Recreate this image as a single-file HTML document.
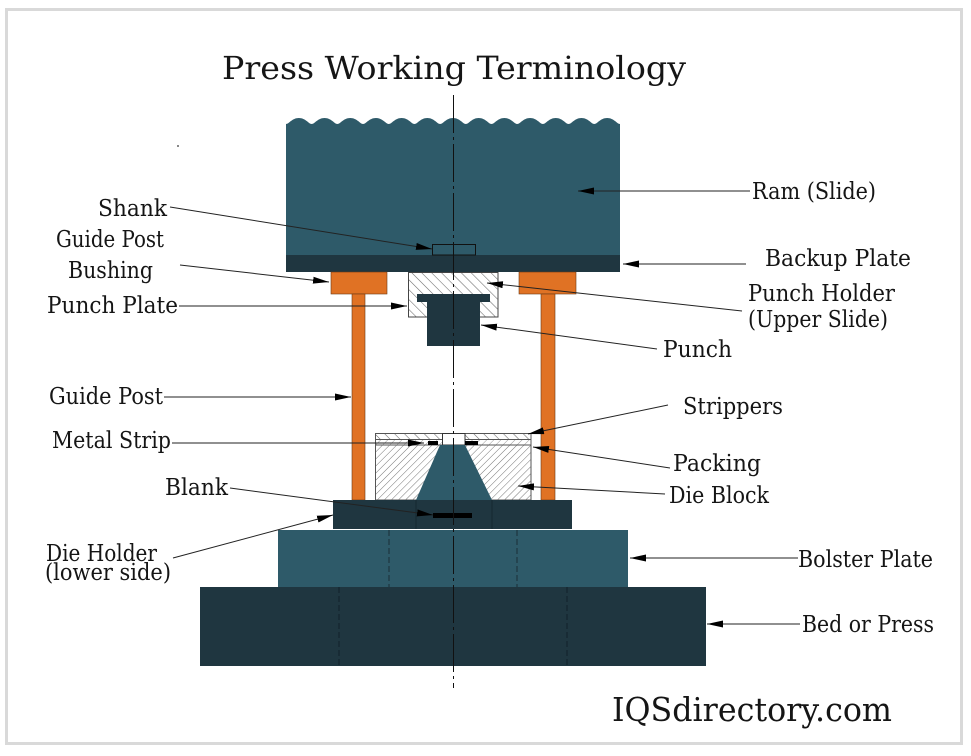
<!DOCTYPE html>
<html><head><meta charset="utf-8"><style>
html,body{margin:0;padding:0;background:#fff;}
svg{display:block;}
text{font-family:"DejaVu Serif","Liberation Serif",serif;fill:#151515;}
</style></head><body>
<svg width="971" height="756" viewBox="0 0 971 756" xmlns="http://www.w3.org/2000/svg">
<defs>
<pattern id="hA" patternUnits="userSpaceOnUse" width="7" height="7" patternTransform="rotate(-45)">
<rect width="7" height="7" fill="#fff"/><line x1="0" y1="0" x2="0" y2="7" stroke="#6a6a6a" stroke-width="1.1"/></pattern>
<pattern id="hB" patternUnits="userSpaceOnUse" width="5" height="5" patternTransform="rotate(45)">
<rect width="5" height="5" fill="#fff"/><line x1="0" y1="0" x2="0" y2="5" stroke="#777" stroke-width="1"/></pattern>
<pattern id="hC" patternUnits="userSpaceOnUse" width="5" height="5" patternTransform="rotate(45)">
<rect width="5" height="5" fill="#fff"/><line x1="0" y1="0" x2="0" y2="5" stroke="#999" stroke-width="1"/></pattern>
<marker id="ar" markerUnits="userSpaceOnUse" markerWidth="17" markerHeight="8" refX="16" refY="3.5" orient="auto">
<path d="M0,0 L16,3.5 L0,7 Z" fill="#000"/></marker>
</defs>
<rect x="0" y="0" width="971" height="756" fill="#fff"/>
<rect x="6.5" y="9.5" width="955" height="734" fill="none" stroke="#d9d9d9" stroke-width="3"/>
<rect x="177" y="145" width="2" height="2" fill="#888"/>

<!-- Ram -->
<path d="M286,272 L286,124
c3,0 6,-6 12.846,-6 c6.846,0 9.846,6 12.846,6
c3,0 6,-6 12.846,-6 c6.846,0 9.846,6 12.846,6
c3,0 6,-6 12.846,-6 c6.846,0 9.846,6 12.846,6
c3,0 6,-6 12.846,-6 c6.846,0 9.846,6 12.846,6
c3,0 6,-6 12.846,-6 c6.846,0 9.846,6 12.846,6
c3,0 6,-6 12.846,-6 c6.846,0 9.846,6 12.846,6
c3,0 6,-6 12.846,-6 c6.846,0 9.846,6 12.846,6
c3,0 6,-6 12.846,-6 c6.846,0 9.846,6 12.846,6
c3,0 6,-6 12.846,-6 c6.846,0 9.846,6 12.846,6
c3,0 6,-6 12.846,-6 c6.846,0 9.846,6 12.846,6
c3,0 6,-6 12.846,-6 c6.846,0 9.846,6 12.846,6
c3,0 6,-6 12.846,-6 c6.846,0 9.846,6 12.846,6
c3,0 6,-6 12.846,-6 c6.846,0 9.846,6 12.846,6
L620,272 Z" fill="#2e5a69"/>
<rect x="286" y="255" width="334" height="17" fill="#1f3640"/>
<rect x="432.5" y="244.5" width="43" height="10.5" fill="none" stroke="#111" stroke-width="1"/>

<!-- Bushings & guide posts -->
<rect x="331" y="272" width="56" height="22" fill="#e07224" stroke="#6b3a15" stroke-width="0.6"/>
<rect x="519" y="272" width="57" height="22" fill="#e07224" stroke="#6b3a15" stroke-width="0.6"/>
<rect x="352" y="294" width="13" height="206" fill="#e07224" stroke="#6b3a15" stroke-width="0.6"/>
<rect x="541" y="294" width="14" height="206" fill="#e07224" stroke="#6b3a15" stroke-width="0.6"/>

<!-- Punch holder & punch -->
<rect x="408.5" y="272.5" width="89.5" height="44.5" fill="url(#hA)" stroke="#444" stroke-width="1"/>
<rect x="417" y="294" width="73" height="8" fill="#1f3640"/>
<rect x="427" y="302" width="53" height="44" fill="#1f3640"/>

<!-- Die block, packing, stripper -->
<rect x="375.5" y="445" width="155.5" height="55" fill="url(#hB)" stroke="#555" stroke-width="1"/>
<rect x="375.5" y="433.5" width="155.5" height="6" fill="url(#hA)" stroke="#555" stroke-width="1"/>
<rect x="375.5" y="439.5" width="155.5" height="5.5" fill="url(#hC)" stroke="#555" stroke-width="1"/>
<rect x="442.5" y="433.5" width="22.5" height="11.5" fill="#fff" stroke="#333" stroke-width="1"/>
<polygon points="440,445 465,445 492,500 416,500" fill="#2e5a69"/>
<rect x="428" y="441" width="10" height="4" fill="#000"/>
<rect x="465" y="441" width="13" height="4" fill="#000"/>

<!-- Die holder -->
<rect x="333" y="500" width="239" height="29" fill="#1f3640"/>
<line x1="416" y1="500" x2="416" y2="529" stroke="#152830" stroke-width="1"/>
<line x1="492" y1="500" x2="492" y2="529" stroke="#152830" stroke-width="1"/>
<rect x="433" y="513" width="39" height="5" fill="#000"/>

<!-- Bolster -->
<rect x="278" y="530" width="350" height="57" fill="#2e5a69"/>
<line x1="389" y1="530" x2="389" y2="587" stroke="#1a2e36" stroke-width="1" stroke-dasharray="6 3"/>
<line x1="517" y1="530" x2="517" y2="587" stroke="#1a2e36" stroke-width="1" stroke-dasharray="6 3"/>

<!-- Bed -->
<rect x="200" y="587" width="506" height="79" fill="#1f3640"/>
<line x1="339" y1="587" x2="339" y2="666" stroke="#10202a" stroke-width="1" stroke-dasharray="6 3"/>
<line x1="567" y1="587" x2="567" y2="666" stroke="#10202a" stroke-width="1" stroke-dasharray="6 3"/>

<!-- Center line -->
<line x1="453.5" y1="95" x2="453.5" y2="688" stroke="#111" stroke-width="1" stroke-dasharray="38 4 3 4"/>

<!-- Leaders -->
<g stroke="#222" stroke-width="1" fill="none" marker-end="url(#ar)">
<line x1="750" y1="191" x2="578" y2="191"/>
<line x1="746" y1="264" x2="623" y2="264"/>
<line x1="170" y1="207" x2="432" y2="249"/>
<line x1="180" y1="265" x2="329" y2="282"/>
<line x1="179" y1="306" x2="407" y2="306"/>
<line x1="742" y1="311" x2="487" y2="283"/>
<line x1="657" y1="349" x2="481" y2="325"/>
<line x1="164" y1="397" x2="351" y2="397"/>
<line x1="172" y1="443" x2="424" y2="443"/>
<line x1="668" y1="405" x2="528" y2="434"/>
<line x1="670" y1="468" x2="533" y2="447"/>
<line x1="665" y1="494" x2="518" y2="486"/>
<line x1="230" y1="488" x2="433" y2="515"/>
<line x1="173" y1="558" x2="333" y2="515"/>
<line x1="798" y1="558" x2="630" y2="558"/>
<line x1="800" y1="624" x2="707" y2="624"/>
</g>

<!-- Title -->
<text x="222" y="79" font-size="32" textLength="464" lengthAdjust="spacingAndGlyphs">Press Working Terminology</text>
<text x="612" y="721" font-size="33" textLength="280" lengthAdjust="spacingAndGlyphs">IQSdirectory.com</text>

<!-- Labels -->
<g font-size="23">
<text x="98" y="216" textLength="69" lengthAdjust="spacingAndGlyphs">Shank</text>
<text x="56" y="247" textLength="108" lengthAdjust="spacingAndGlyphs">Guide Post</text>
<text x="68" y="278" textLength="85" lengthAdjust="spacingAndGlyphs">Bushing</text>
<text x="47" y="313" textLength="131" lengthAdjust="spacingAndGlyphs">Punch Plate</text>
<text x="49" y="404" textLength="114" lengthAdjust="spacingAndGlyphs">Guide Post</text>
<text x="52" y="448" textLength="119" lengthAdjust="spacingAndGlyphs">Metal Strip</text>
<text x="165" y="495" textLength="63" lengthAdjust="spacingAndGlyphs">Blank</text>
<text x="46" y="561" textLength="111" lengthAdjust="spacingAndGlyphs">Die Holder</text>
<text x="45" y="580" textLength="126" lengthAdjust="spacingAndGlyphs">(lower side)</text>
<text x="752" y="199" textLength="124" lengthAdjust="spacingAndGlyphs">Ram (Slide)</text>
<text x="765" y="266" textLength="146" lengthAdjust="spacingAndGlyphs">Backup Plate</text>
<text x="748" y="301" textLength="147" lengthAdjust="spacingAndGlyphs">Punch Holder</text>
<text x="748" y="327" textLength="140" lengthAdjust="spacingAndGlyphs">(Upper Slide)</text>
<text x="663" y="357" textLength="69" lengthAdjust="spacingAndGlyphs">Punch</text>
<text x="683" y="414" textLength="100" lengthAdjust="spacingAndGlyphs">Strippers</text>
<text x="673" y="471" textLength="88" lengthAdjust="spacingAndGlyphs">Packing</text>
<text x="669" y="503" textLength="100" lengthAdjust="spacingAndGlyphs">Die Block</text>
<text x="798" y="567" textLength="135" lengthAdjust="spacingAndGlyphs">Bolster Plate</text>
<text x="802" y="632" textLength="132" lengthAdjust="spacingAndGlyphs">Bed or Press</text>
</g>
</svg>
</body></html>
